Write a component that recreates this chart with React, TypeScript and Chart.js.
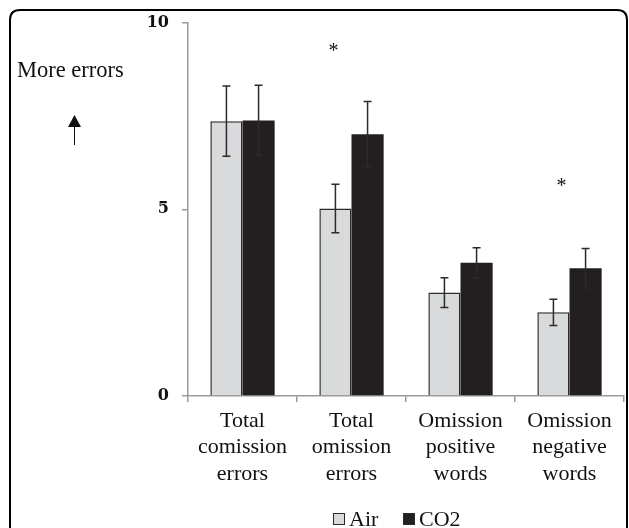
import React, { useEffect, useRef } from "react";
import { Chart, registerables } from "chart.js";

Chart.register(...registerables);

const categories: string[][] = [
  ["Total", "comission", "errors"],
  ["Total", "omission", "errors"],
  ["Omission", "positive", "words"],
  ["Omission", "negative", "words"],
];
const airValues = [7.36, 5.02, 2.77, 2.24];
const airErrors = [0.94, 0.65, 0.4, 0.35];
const co2Values = [7.38, 7.01, 3.57, 3.42];
const co2Errors = [0.94, 0.88, 0.4, 0.53];
const sigCategoryIndex = [1, 3];
const sigLevels = [9.33, 5.72];
const yTicks = [0, 5, 10];
const yAxisNote = "More errors";

const SERIF = "'Liberation Serif', 'Times New Roman', serif";

const errorBarPlugin = {
  id: "errorBars",
  afterDatasetsDraw(chart: any) {
    const ctx = chart.ctx;
    const y = chart.scales.y;
    const errs = [airErrors, co2Errors];
    ctx.save();
    ctx.strokeStyle = "#2b2b2b";
    ctx.lineWidth = 1.5;
    chart.data.datasets.forEach((ds: any, di: number) => {
      const meta = chart.getDatasetMeta(di);
      meta.data.forEach((bar: any, i: number) => {
        const v = ds.data[i];
        const e = errs[di][i];
        const x = bar.x;
        const yt = y.getPixelForValue(v + e);
        const yb = y.getPixelForValue(v - e);
        ctx.beginPath();
        ctx.moveTo(x, yt);
        ctx.lineTo(x, yb);
        ctx.moveTo(x - 4, yt);
        ctx.lineTo(x + 4, yt);
        ctx.moveTo(x - 4, yb);
        ctx.lineTo(x + 4, yb);
        ctx.stroke();
      });
    });
    ctx.restore();
  },
};

const decorPlugin = {
  id: "decor",
  afterDraw(chart: any) {
    const ctx = chart.ctx;
    const xs = chart.scales.x;
    const ys = chart.scales.y;
    ctx.save();
    // outer rounded frame
    ctx.strokeStyle = "#000";
    ctx.lineWidth = 2;
    const r = 10;
    const L = 10, T = 10, R = 627, B = 560;
    ctx.beginPath();
    ctx.moveTo(L, B);
    ctx.lineTo(L, T + r);
    ctx.quadraticCurveTo(L, T, L + r, T);
    ctx.lineTo(R - r, T);
    ctx.quadraticCurveTo(R, T, R, T + r);
    ctx.lineTo(R, B);
    ctx.stroke();

    // "More errors" note + arrow
    ctx.fillStyle = "#111";
    ctx.font = `22.5px ${SERIF}`;
    ctx.textAlign = "left";
    ctx.textBaseline = "alphabetic";
    ctx.fillText(yAxisNote, 17, 77);
    ctx.strokeStyle = "#111";
    ctx.lineWidth = 1;
    ctx.beginPath();
    ctx.moveTo(74.5, 145);
    ctx.lineTo(74.5, 125);
    ctx.stroke();
    ctx.beginPath();
    ctx.moveTo(74.5, 115);
    ctx.lineTo(68, 127);
    ctx.lineTo(81, 127);
    ctx.closePath();
    ctx.fill();

    // significance asterisks
    ctx.font = `20px ${SERIF}`;
    ctx.textAlign = "center";
    ctx.textBaseline = "middle";
    const offsets = [-18, -8];
    sigCategoryIndex.forEach((ci, k) => {
      const x = xs.getPixelForValue(ci) + offsets[k];
      const y = ys.getPixelForValue(sigLevels[k]);
      ctx.fillText("*", x, y + 4);
    });

    // legend
    const items = chart.data.datasets.map((d: any) => ({
      label: d.label,
      fill: d.backgroundColor,
    }));
    ctx.font = `22px ${SERIF}`;
    ctx.textAlign = "left";
    ctx.textBaseline = "alphabetic";
    const boxes = [333, 403];
    items.forEach((it: any, i: number) => {
      const bx = boxes[i];
      ctx.fillStyle = it.fill;
      ctx.fillRect(bx, 513, 12, 12);
      ctx.strokeStyle = "#2b2b2b";
      ctx.lineWidth = 1;
      ctx.strokeRect(bx + 0.5, 513.5, 11, 11);
      ctx.fillStyle = "#111";
      ctx.fillText(it.label, bx + 16, 526);
    });
    ctx.restore();
  },
};

export default function App() {
  const ref = useRef<HTMLCanvasElement | null>(null);
  useEffect(() => {
    if (!ref.current) return;
    const chart = new Chart(ref.current, {
      type: "bar",
      data: {
        labels: categories,
        datasets: [
          {
            label: "Air",
            data: airValues,
            backgroundColor: "#d9dadc",
            borderColor: "#2b2b2b",
            borderWidth: 1.5,
            categoryPercentage: 0.59,
            barPercentage: 1.0,
          },
          {
            label: "CO2",
            data: co2Values,
            backgroundColor: "#231f20",
            borderColor: "#231f20",
            borderWidth: 0,
            categoryPercentage: 0.59,
            barPercentage: 1.0,
          },
        ],
      },
      options: {
        animation: false,
        responsive: false,
        maintainAspectRatio: false,
        layout: { padding: { left: 0, top: 20, right: 5, bottom: 0 } },
        plugins: { legend: { display: false }, tooltip: { enabled: false } },
        scales: {
          x: {
            grid: {
              display: true,
              drawOnChartArea: false,
              drawTicks: true,
              tickLength: 6,
              color: "#9a9a9a",
              lineWidth: 1.5,
            },
            border: { display: true, color: "#9a9a9a", width: 1.5 },
            ticks: {
              color: "#111",
              font: { family: SERIF, size: 22, lineHeight: 1.2 },
              padding: 6,
              maxRotation: 0,
              autoSkip: false,
            },
            afterFit: (s: any) => {
              s.height = 132;
            },
          },
          y: {
            min: 0,
            max: 10,
            afterBuildTicks: (s: any) => {
              s.ticks = yTicks.map((v) => ({ value: v }));
            },
            grid: {
              display: true,
              drawOnChartArea: false,
              drawTicks: true,
              tickLength: 6,
              color: "#9a9a9a",
              lineWidth: 1.5,
            },
            border: { display: true, color: "#9a9a9a", width: 1.5 },
            ticks: {
              color: "#111",
              font: { family: "'DejaVu Serif', serif", size: 16, weight: "bold" },
              padding: 13,
            },
            afterFit: (s: any) => {
              s.width = 188;
            },
          },
        },
      },
      plugins: [errorBarPlugin, decorPlugin],
    });
    return () => chart.destroy();
  }, []);
  return (
    <div style={{ position: "fixed", left: 0, top: 0, width: 629, height: 528, background: "#fff" }}>
      <canvas ref={ref} width={629} height={528} style={{ display: "block" }} />
    </div>
  );
}
